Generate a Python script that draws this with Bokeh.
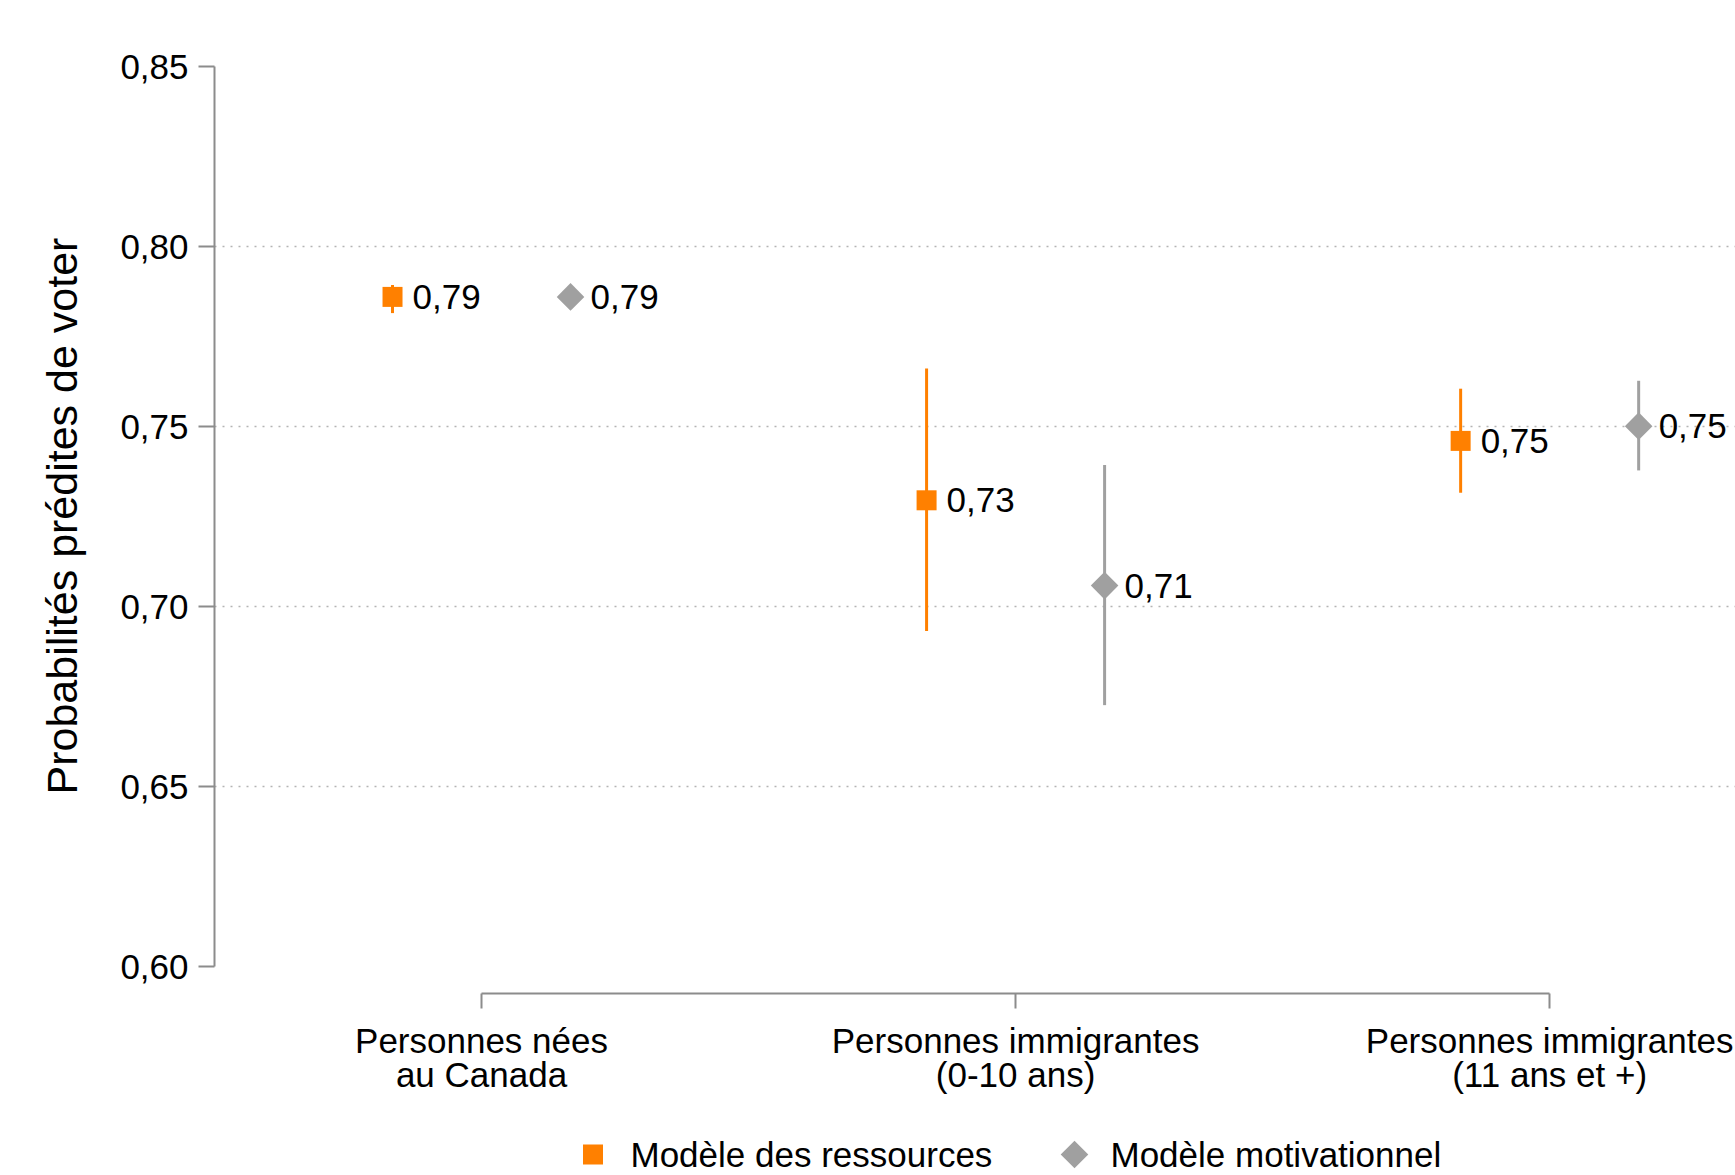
from bokeh.plotting import figure
from bokeh.layouts import column
from bokeh.models import (ColumnDataSource, Range1d, FixedTicker, CustomJSTickFormatter, Title)
from bokeh.transform import dodge
from bokeh.core.properties import value
from bokeh.embed import file_html
from bokeh.resources import INLINE
import math

# ---- data ----
categories = ["Personnes nées\nau Canada",
              "Personnes immigrantes\n(0-10 ans)",
              "Personnes immigrantes\n(11 ans et +)"]
series_names = ["Modèle des ressources", "Modèle motivationnel"]
ressources_est = [0.786, 0.7295, 0.746]
ressources_low = [0.7815, 0.6932, 0.7316]
ressources_high = [0.7893, 0.7661, 0.7605]
motiv_est = [0.786, 0.7058, 0.7501]
motiv_low = [0.7836, 0.6726, 0.7378]
motiv_high = [0.7882, 0.7393, 0.7627]
y_ticks = [0.60, 0.65, 0.70, 0.75, 0.80, 0.85]
grid_ticks = [0.65, 0.70, 0.75, 0.80]
y_title = "Probabilités prédites de voter"

ORANGE = "#FF8000"
GRAY = "#A0A0A0"
AXIS = "#8C8C8C"
FONT = "Liberation Sans"
FS = "35px"

idx = list(range(len(categories)))

def fmt(v):
    return f"{v:.2f}".replace(".", ",")

src_r = ColumnDataSource(dict(idx=idx, est=ressources_est, low=ressources_low, high=ressources_high,
                              lab=[fmt(v) for v in ressources_est]))
src_m = ColumnDataSource(dict(idx=idx, est=motiv_est, low=motiv_low, high=motiv_high,
                              lab=[fmt(v) for v in motiv_est]))

p = figure(width=1735, height=1120,
           x_range=Range1d(-0.5, 2.348), y_range=Range1d(0.5925, 0.85),
           output_backend="svg", toolbar_location=None,
           min_border_left=214, min_border_right=0, min_border_top=66, min_border_bottom=127)
p.outline_line_color = None
p.background_fill_color = "white"
p.border_fill_color = "white"

# grid
p.xgrid.visible = False
p.ygrid.ticker = FixedTicker(ticks=grid_ticks)
p.ygrid.grid_line_color = "#B4B4B4"
p.ygrid.grid_line_width = 1.5
p.ygrid.grid_line_dash = "2 6"

# y axis
yax = p.yaxis[0]
yax.ticker = FixedTicker(ticks=y_ticks)
yax.formatter = CustomJSTickFormatter(code="return tick.toFixed(2).replace('.', ',');")
yax.bounds = (0.60, 0.85)
yax.axis_line_color = AXIS
yax.axis_line_width = 2
yax.major_tick_line_color = AXIS
yax.major_tick_line_width = 2
yax.major_tick_out = 16
yax.major_tick_in = 0
yax.minor_tick_line_color = None
yax.major_label_standoff = 10
yax.major_label_text_font = FONT
yax.major_label_text_font_size = FS
yax.major_label_text_color = "black"

# y axis title (left side panel, positioned to centre on the 0.60-0.85 span)
p.add_layout(Title(text=y_title, align="left", offset=199, standoff=63,
                   text_font=FONT, text_font_size="43px", text_font_style="normal",
                   text_color="black"), "left")

# x axis
xax = p.xaxis[0]
xax.ticker = FixedTicker(ticks=idx)
xax.major_label_overrides = {i: c for i, c in zip(idx, categories)}
xax.bounds = (0, 2)
xax.axis_line_color = AXIS
xax.axis_line_width = 2
xax.major_tick_line_color = AXIS
xax.major_tick_line_width = 2
xax.major_tick_out = 15
xax.major_tick_in = 0
xax.minor_tick_line_color = None
xax.major_label_standoff = 12
xax.major_label_text_font = FONT
xax.major_label_text_font_size = FS
xax.major_label_text_color = "black"
xax.major_label_text_line_height = 0.88

off = 1.0 / 6.0
# error bars
p.segment(x0=dodge("idx", -off), y0="low", x1=dodge("idx", -off), y1="high", source=src_r,
          line_color=ORANGE, line_width=3)
p.segment(x0=dodge("idx", off), y0="low", x1=dodge("idx", off), y1="high", source=src_m,
          line_color=GRAY, line_width=3)
# markers
p.scatter(x=dodge("idx", -off), y="est", source=src_r, marker="square", size=20,
          fill_color=ORANGE, line_color=None)
p.scatter(x=dodge("idx", off), y="est", source=src_m, marker="square", size=19.5,
          angle=math.pi / 4, fill_color=GRAY, line_color=None)
# value labels
for src, dx in ((src_r, -off), (src_m, off)):
    p.text(x=dodge("idx", dx), y="est", text="lab", source=src, x_offset=20,
           text_baseline="middle", text_align="left", text_font=value(FONT),
           text_font_size=FS, text_color="black")

# ---- legend strip below the chart (pixel-unit layout ranges) ----
lf = figure(width=1735, height=55, x_range=Range1d(214, 1735), y_range=Range1d(0, 55),
            output_backend="svg", toolbar_location=None,
            min_border_left=214, min_border_right=0, min_border_top=0, min_border_bottom=0)
lf.axis.visible = False
lf.grid.visible = False
lf.outline_line_color = None
leg_swatch_x = [592.5, 1074]
leg_text_x = [630, 1110]
leg_y = [21, 21]
lf.scatter(x=leg_swatch_x[:1], y=leg_y[:1], marker="square", size=20,
           fill_color=ORANGE, line_color=None)
lf.scatter(x=leg_swatch_x[1:], y=leg_y[1:], marker="square", size=19.5,
           angle=math.pi / 4, fill_color=GRAY, line_color=None)
lf.text(x=leg_text_x, y=leg_y, text=series_names, text_baseline="middle", text_align="left",
        text_font=value(FONT), text_font_size=FS, text_color="black")

layout = column(p, lf, spacing=0)
open("out.html", "w").write(file_html(layout, INLINE))
